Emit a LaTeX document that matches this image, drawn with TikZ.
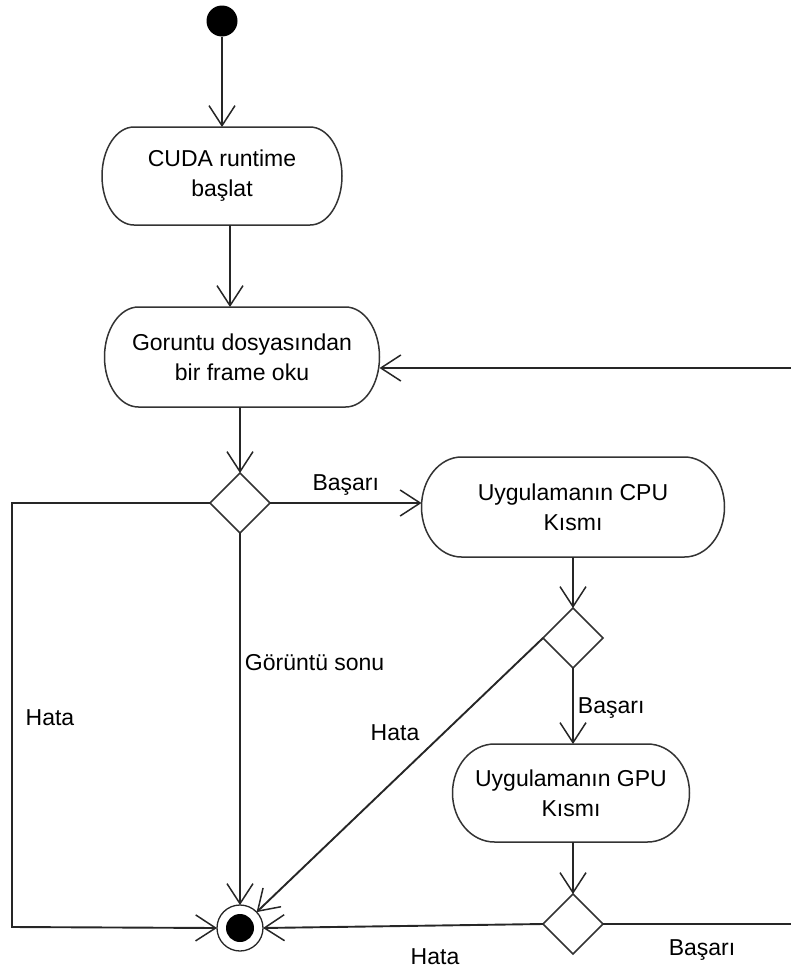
\documentclass[tikz,border=0pt]{standalone}
\usepackage{fontspec}
\setmainfont{Liberation Sans}
\usetikzlibrary{arrows.meta,shapes.geometric,calc}

\tikzset{
  ink/.style={draw=black!85, line width=1.9pt},
  outline/.style={draw=black!80, line width=1.5pt},
  flow/.style={ink, -{Straight Barb[length=20pt,width=26pt,line width=1.5pt]}},
  plain/.style={ink},
  activity/.style={draw=none, inner sep=0pt, outer sep=0pt, align=center,
    font=\fontsize{23}{30}\selectfont},
  choice/.style={diamond, outline, fill=white, minimum width=60pt,
    minimum height=60pt, inner sep=0pt, outer sep=0pt},
  lbl/.style={font=\fontsize{23}{26}\selectfont, inner sep=0pt},
}

% rounded activity outline with elliptic ends; #1 node name, #2 horizontal end radius
\newcommand\actoutline[2]{%
  \draw[outline] let \p1=(#1.north west), \p2=(#1.south east),
    \n1={(\y1-\y2)/2} in
    (\x1+#2,\y1) -- (\x2-#2,\y1)
    arc[start angle=90,end angle=-90,x radius=#2,y radius=\n1]
    -- (\x1+#2,\y2)
    arc[start angle=270,end angle=90,x radius=#2,y radius=\n1] -- cycle;}

\begin{document}
\begin{tikzpicture}[x=1pt,y=1pt]
\useasboundingbox (0,0) rectangle (791,-972);

% start and end
\node[circle, fill=black, minimum size=31pt, inner sep=0pt] (start) at (222,-21) {};
\node[circle, draw=black!85, line width=1.3pt, fill=white, minimum size=46pt,
  inner sep=0pt, outer sep=0pt] (fin) at (240,-928) {};
\fill[black] (fin.center) circle (14pt);

% activities
\node[activity, minimum width=240pt, minimum height=98pt] (init) at (222,-176)
  {CUDA runtime\\başlat};
\node[activity, minimum width=275pt, minimum height=100pt] (read) at (242,-357)
  {Goruntu dosyasından\\bir frame oku};
\node[activity, minimum width=303pt, minimum height=100pt] (cpu) at (573,-507)
  {Uygulamanın CPU\\Kısmı};
\node[activity, minimum width=237pt, minimum height=98pt] (gpu) at (571,-793)
  {Uygulamanın GPU\\Kısmı};
\actoutline{init}{32pt}
\actoutline{read}{34pt}
\actoutline{cpu}{40pt}
\actoutline{gpu}{42pt}

% decisions
\node[choice] (d1) at (240,-503) {};
\node[choice] (d2) at (573,-638) {};
\node[choice] (d3) at (573,-924) {};

% free ends at the right border
\coordinate (loopin) at (791,-368);
\coordinate (loopout) at (791,-924);
\coordinate (lt) at (12,-503);
\coordinate (lb) at (12,-927);

% main flow
\draw[flow] (start) -- (init.north);
\draw[flow] ([xshift=8pt]init.south) -- ([xshift=-12pt]read.north);
\draw[flow] ([xshift=-2pt]read.south) -- (d1.north);
\draw[flow] (d1.east) -- ([yshift=4pt]cpu.west)
  node[lbl, pos=0.5, above=7pt] {Başarı};
\draw[flow] (cpu.south) -- (d2.north);
\draw[flow] (d2.south) -- ([xshift=2pt]gpu.north)
  node[lbl, pos=0.53, right=4pt] {Başarı};
\draw[flow] ([xshift=2pt]gpu.south) -- (d3.north);

% branches to the end
\draw[flow] (d1.south) -- (fin.north)
  node[lbl, pos=0.347, right=4pt] {Görüntü sonu};
\draw[flow] (d1.west) -- (lt) -- (lb) -- (fin.west);
\node[lbl] (hl) at (50,-718) {Hata};
\draw[flow] (d2.west) -- (fin);
\node[lbl] (hd) at (395,-733) {Hata};
\draw[flow] (d3.west) -- (fin.east);
\node[lbl] (hb) at (435,-957) {Hata};

% loop back
\draw[plain] (d3.east) -- (loopout);
\node[lbl] (bb) at (702,-950) {Başarı};
\draw[flow] (loopin) -- ([yshift=-11pt]read.east);
\end{tikzpicture}
\end{document}
